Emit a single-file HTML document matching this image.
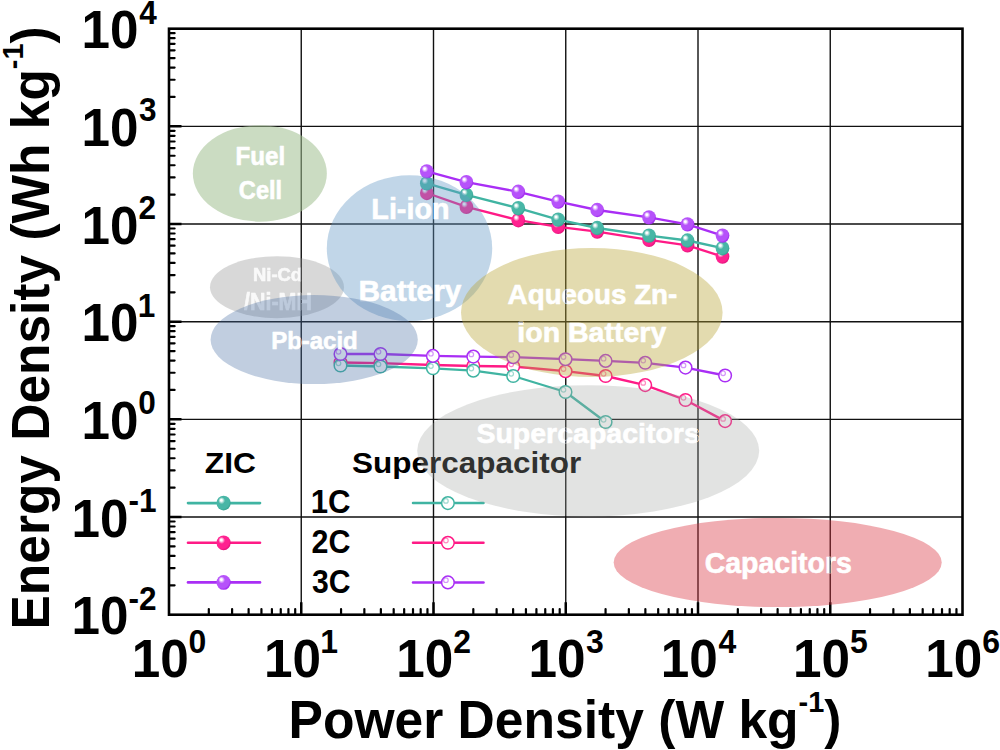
<!DOCTYPE html>
<html><head><meta charset="utf-8"><style>
html,body{margin:0;padding:0;background:#fff;}
svg{display:block;}
text{font-family:"Liberation Sans",sans-serif;font-weight:bold;}
.lab{fill:#fff;}
</style></head><body>
<svg width="1000" height="750" viewBox="0 0 1000 750">
<defs>
<radialGradient id="gT" cx="0.42" cy="0.4" r="0.62" fx="0.33" fy="0.3"><stop offset="0" stop-color="#fff"/><stop offset="0.1" stop-color="#fff" stop-opacity="0.95"/><stop offset="0.38" stop-color="#48b6a6"/><stop offset="0.8" stop-color="#48b6a6"/><stop offset="1" stop-color="#36a090"/></radialGradient>
<radialGradient id="gP" cx="0.42" cy="0.4" r="0.62" fx="0.33" fy="0.3"><stop offset="0" stop-color="#fff"/><stop offset="0.1" stop-color="#fff" stop-opacity="0.95"/><stop offset="0.38" stop-color="#ff2290"/><stop offset="0.8" stop-color="#ff2290"/><stop offset="1" stop-color="#e0107a"/></radialGradient>
<radialGradient id="gV" cx="0.42" cy="0.4" r="0.62" fx="0.33" fy="0.3"><stop offset="0" stop-color="#fff"/><stop offset="0.1" stop-color="#fff" stop-opacity="0.95"/><stop offset="0.38" stop-color="#b652fa"/><stop offset="0.8" stop-color="#b652fa"/><stop offset="1" stop-color="#9c22ec"/></radialGradient>
</defs>
<rect width="1000" height="750" fill="#fff"/>
<path d="M301.25 28.70V614.70 M433.50 28.70V614.70 M565.75 28.70V614.70 M698.00 28.70V614.70 M830.25 28.70V614.70 M169.00 517.03H962.50 M169.00 419.37H962.50 M169.00 321.70H962.50 M169.00 224.03H962.50 M169.00 126.37H962.50" stroke="#111" stroke-width="1.4" fill="none"/>
<path d="M169.00 585.30h5.6 M169.00 568.10h5.6 M169.00 555.90h5.6 M169.00 546.43h5.6 M169.00 538.70h5.6 M169.00 532.16h5.6 M169.00 526.50h5.6 M169.00 521.50h5.6 M169.00 487.63h5.6 M169.00 470.43h5.6 M169.00 458.23h5.6 M169.00 448.77h5.6 M169.00 441.03h5.6 M169.00 434.50h5.6 M169.00 428.83h5.6 M169.00 423.84h5.6 M169.00 389.97h5.6 M169.00 372.77h5.6 M169.00 360.57h5.6 M169.00 351.10h5.6 M169.00 343.37h5.6 M169.00 336.83h5.6 M169.00 331.16h5.6 M169.00 326.17h5.6 M169.00 292.30h5.6 M169.00 275.10h5.6 M169.00 262.90h5.6 M169.00 253.43h5.6 M169.00 245.70h5.6 M169.00 239.16h5.6 M169.00 233.50h5.6 M169.00 228.50h5.6 M169.00 194.63h5.6 M169.00 177.43h5.6 M169.00 165.23h5.6 M169.00 155.77h5.6 M169.00 148.03h5.6 M169.00 141.50h5.6 M169.00 135.83h5.6 M169.00 130.84h5.6 M169.00 96.97h5.6 M169.00 79.77h5.6 M169.00 67.57h5.6 M169.00 58.10h5.6 M169.00 50.37h5.6 M169.00 43.83h5.6 M169.00 38.16h5.6 M169.00 33.17h5.6 M208.81 614.70v-5.6 M232.10 614.70v-5.6 M248.62 614.70v-5.6 M261.44 614.70v-5.6 M271.91 614.70v-5.6 M280.76 614.70v-5.6 M288.43 614.70v-5.6 M295.20 614.70v-5.6 M341.06 614.70v-5.6 M364.35 614.70v-5.6 M380.87 614.70v-5.6 M393.69 614.70v-5.6 M404.16 614.70v-5.6 M413.01 614.70v-5.6 M420.68 614.70v-5.6 M427.45 614.70v-5.6 M473.31 614.70v-5.6 M496.60 614.70v-5.6 M513.12 614.70v-5.6 M525.94 614.70v-5.6 M536.41 614.70v-5.6 M545.26 614.70v-5.6 M552.93 614.70v-5.6 M559.70 614.70v-5.6 M605.56 614.70v-5.6 M628.85 614.70v-5.6 M645.37 614.70v-5.6 M658.19 614.70v-5.6 M668.66 614.70v-5.6 M677.51 614.70v-5.6 M685.18 614.70v-5.6 M691.95 614.70v-5.6 M737.81 614.70v-5.6 M761.10 614.70v-5.6 M777.62 614.70v-5.6 M790.44 614.70v-5.6 M800.91 614.70v-5.6 M809.76 614.70v-5.6 M817.43 614.70v-5.6 M824.20 614.70v-5.6 M870.06 614.70v-5.6 M893.35 614.70v-5.6 M909.87 614.70v-5.6 M922.69 614.70v-5.6 M933.16 614.70v-5.6 M942.01 614.70v-5.6 M949.68 614.70v-5.6 M956.45 614.70v-5.6" stroke="#000" stroke-width="2.2" stroke-linecap="round" fill="none"/>
<path d="M169.00 517.03h12.5 M169.00 419.37h12.5 M169.00 321.70h12.5 M169.00 224.03h12.5 M169.00 126.37h12.5 M301.25 614.70v-12.5 M433.50 614.70v-12.5 M565.75 614.70v-12.5 M698.00 614.70v-12.5 M830.25 614.70v-12.5" stroke="#000" stroke-width="2.5" fill="none"/>
<rect x="169.00" y="28.70" width="793.50" height="586.00" fill="none" stroke="#000" stroke-width="2.6"/>
<polyline points="340.5,362.5 380.5,363.2 432.9,365.0 473.3,366.0 513.2,366.5 565.5,371.2 605.6,376.0 645.2,385.1 685.5,400.0 725.1,421.1" fill="none" stroke="#ff1a86" stroke-width="2.35" stroke-linejoin="round"/>
<circle cx="340.5" cy="362.5" r="6.3" fill="#fff" stroke="#ff1a86" stroke-width="1.5"/>
<circle cx="338.5" cy="360.3" r="2.3" fill="none" stroke="#ff1a86" stroke-opacity="0.5" stroke-width="1.2"/>
<circle cx="380.5" cy="363.2" r="6.3" fill="#fff" stroke="#ff1a86" stroke-width="1.5"/>
<circle cx="378.5" cy="361.0" r="2.3" fill="none" stroke="#ff1a86" stroke-opacity="0.5" stroke-width="1.2"/>
<circle cx="432.9" cy="365.0" r="6.3" fill="#fff" stroke="#ff1a86" stroke-width="1.5"/>
<circle cx="430.9" cy="362.8" r="2.3" fill="none" stroke="#ff1a86" stroke-opacity="0.5" stroke-width="1.2"/>
<circle cx="473.3" cy="366.0" r="6.3" fill="#fff" stroke="#ff1a86" stroke-width="1.5"/>
<circle cx="471.3" cy="363.8" r="2.3" fill="none" stroke="#ff1a86" stroke-opacity="0.5" stroke-width="1.2"/>
<circle cx="513.2" cy="366.5" r="6.3" fill="#fff" stroke="#ff1a86" stroke-width="1.5"/>
<circle cx="511.2" cy="364.3" r="2.3" fill="none" stroke="#ff1a86" stroke-opacity="0.5" stroke-width="1.2"/>
<circle cx="565.5" cy="371.2" r="6.3" fill="#fff" stroke="#ff1a86" stroke-width="1.5"/>
<circle cx="563.5" cy="369.0" r="2.3" fill="none" stroke="#ff1a86" stroke-opacity="0.5" stroke-width="1.2"/>
<circle cx="605.6" cy="376.0" r="6.3" fill="#fff" stroke="#ff1a86" stroke-width="1.5"/>
<circle cx="603.6" cy="373.8" r="2.3" fill="none" stroke="#ff1a86" stroke-opacity="0.5" stroke-width="1.2"/>
<circle cx="645.2" cy="385.1" r="6.3" fill="#fff" stroke="#ff1a86" stroke-width="1.5"/>
<circle cx="643.2" cy="382.9" r="2.3" fill="none" stroke="#ff1a86" stroke-opacity="0.5" stroke-width="1.2"/>
<circle cx="685.5" cy="400.0" r="6.3" fill="#fff" stroke="#ff1a86" stroke-width="1.5"/>
<circle cx="683.5" cy="397.8" r="2.3" fill="none" stroke="#ff1a86" stroke-opacity="0.5" stroke-width="1.2"/>
<circle cx="725.1" cy="421.1" r="6.3" fill="#fff" stroke="#ff1a86" stroke-width="1.5"/>
<circle cx="723.1" cy="418.9" r="2.3" fill="none" stroke="#ff1a86" stroke-opacity="0.5" stroke-width="1.2"/>
<polyline points="340.5,365.5 380.5,366.5 432.9,368.3 473.3,370.7 513.2,376.0 565.5,392.0 605.6,422.0" fill="none" stroke="#40b4a2" stroke-width="2.35" stroke-linejoin="round"/>
<circle cx="340.5" cy="365.5" r="6.3" fill="#fff" stroke="#40b4a2" stroke-width="1.5"/>
<circle cx="338.5" cy="363.3" r="2.3" fill="none" stroke="#40b4a2" stroke-opacity="0.5" stroke-width="1.2"/>
<circle cx="380.5" cy="366.5" r="6.3" fill="#fff" stroke="#40b4a2" stroke-width="1.5"/>
<circle cx="378.5" cy="364.3" r="2.3" fill="none" stroke="#40b4a2" stroke-opacity="0.5" stroke-width="1.2"/>
<circle cx="432.9" cy="368.3" r="6.3" fill="#fff" stroke="#40b4a2" stroke-width="1.5"/>
<circle cx="430.9" cy="366.1" r="2.3" fill="none" stroke="#40b4a2" stroke-opacity="0.5" stroke-width="1.2"/>
<circle cx="473.3" cy="370.7" r="6.3" fill="#fff" stroke="#40b4a2" stroke-width="1.5"/>
<circle cx="471.3" cy="368.5" r="2.3" fill="none" stroke="#40b4a2" stroke-opacity="0.5" stroke-width="1.2"/>
<circle cx="513.2" cy="376.0" r="6.3" fill="#fff" stroke="#40b4a2" stroke-width="1.5"/>
<circle cx="511.2" cy="373.8" r="2.3" fill="none" stroke="#40b4a2" stroke-opacity="0.5" stroke-width="1.2"/>
<circle cx="565.5" cy="392.0" r="6.3" fill="#fff" stroke="#40b4a2" stroke-width="1.5"/>
<circle cx="563.5" cy="389.8" r="2.3" fill="none" stroke="#40b4a2" stroke-opacity="0.5" stroke-width="1.2"/>
<circle cx="605.6" cy="422.0" r="6.3" fill="#fff" stroke="#40b4a2" stroke-width="1.5"/>
<circle cx="603.6" cy="419.8" r="2.3" fill="none" stroke="#40b4a2" stroke-opacity="0.5" stroke-width="1.2"/>
<polyline points="340.5,354.0 380.5,354.0 432.9,355.9 473.3,356.6 513.2,357.2 565.5,359.2 605.6,360.9 645.2,362.8 685.5,367.6 725.1,375.5" fill="none" stroke="#a92ef5" stroke-width="2.35" stroke-linejoin="round"/>
<circle cx="340.5" cy="354.0" r="6.3" fill="#fff" stroke="#a92ef5" stroke-width="1.5"/>
<circle cx="338.5" cy="351.8" r="2.3" fill="none" stroke="#a92ef5" stroke-opacity="0.5" stroke-width="1.2"/>
<circle cx="380.5" cy="354.0" r="6.3" fill="#fff" stroke="#a92ef5" stroke-width="1.5"/>
<circle cx="378.5" cy="351.8" r="2.3" fill="none" stroke="#a92ef5" stroke-opacity="0.5" stroke-width="1.2"/>
<circle cx="432.9" cy="355.9" r="6.3" fill="#fff" stroke="#a92ef5" stroke-width="1.5"/>
<circle cx="430.9" cy="353.7" r="2.3" fill="none" stroke="#a92ef5" stroke-opacity="0.5" stroke-width="1.2"/>
<circle cx="473.3" cy="356.6" r="6.3" fill="#fff" stroke="#a92ef5" stroke-width="1.5"/>
<circle cx="471.3" cy="354.4" r="2.3" fill="none" stroke="#a92ef5" stroke-opacity="0.5" stroke-width="1.2"/>
<circle cx="513.2" cy="357.2" r="6.3" fill="#fff" stroke="#a92ef5" stroke-width="1.5"/>
<circle cx="511.2" cy="355.0" r="2.3" fill="none" stroke="#a92ef5" stroke-opacity="0.5" stroke-width="1.2"/>
<circle cx="565.5" cy="359.2" r="6.3" fill="#fff" stroke="#a92ef5" stroke-width="1.5"/>
<circle cx="563.5" cy="357.0" r="2.3" fill="none" stroke="#a92ef5" stroke-opacity="0.5" stroke-width="1.2"/>
<circle cx="605.6" cy="360.9" r="6.3" fill="#fff" stroke="#a92ef5" stroke-width="1.5"/>
<circle cx="603.6" cy="358.7" r="2.3" fill="none" stroke="#a92ef5" stroke-opacity="0.5" stroke-width="1.2"/>
<circle cx="645.2" cy="362.8" r="6.3" fill="#fff" stroke="#a92ef5" stroke-width="1.5"/>
<circle cx="643.2" cy="360.6" r="2.3" fill="none" stroke="#a92ef5" stroke-opacity="0.5" stroke-width="1.2"/>
<circle cx="685.5" cy="367.6" r="6.3" fill="#fff" stroke="#a92ef5" stroke-width="1.5"/>
<circle cx="683.5" cy="365.4" r="2.3" fill="none" stroke="#a92ef5" stroke-opacity="0.5" stroke-width="1.2"/>
<circle cx="725.1" cy="375.5" r="6.3" fill="#fff" stroke="#a92ef5" stroke-width="1.5"/>
<circle cx="723.1" cy="373.3" r="2.3" fill="none" stroke="#a92ef5" stroke-opacity="0.5" stroke-width="1.2"/>
<polyline points="426.8,193.0 466.4,206.8 518.3,220.2 558.2,226.8 597.2,231.6 649.0,239.8 687.5,245.4 722.5,256.6" fill="none" stroke="#ff1a86" stroke-width="2.35" stroke-linejoin="round"/>
<ellipse cx="426.8" cy="193.0" rx="6.85" ry="7.19" fill="url(#gP)"/>
<ellipse cx="466.4" cy="206.8" rx="6.85" ry="7.19" fill="url(#gP)"/>
<ellipse cx="518.3" cy="220.2" rx="6.85" ry="7.19" fill="url(#gP)"/>
<ellipse cx="558.2" cy="226.8" rx="6.85" ry="7.19" fill="url(#gP)"/>
<ellipse cx="597.2" cy="231.6" rx="6.85" ry="7.19" fill="url(#gP)"/>
<ellipse cx="649.0" cy="239.8" rx="6.85" ry="7.19" fill="url(#gP)"/>
<ellipse cx="687.5" cy="245.4" rx="6.85" ry="7.19" fill="url(#gP)"/>
<ellipse cx="722.5" cy="256.6" rx="6.85" ry="7.19" fill="url(#gP)"/>
<polyline points="426.8,183.4 466.4,194.8 518.3,208.2 558.2,219.6 597.2,228.0 649.0,235.6 687.5,240.5 722.5,248.2" fill="none" stroke="#40b4a2" stroke-width="2.35" stroke-linejoin="round"/>
<ellipse cx="426.8" cy="183.4" rx="6.85" ry="7.19" fill="url(#gT)"/>
<ellipse cx="466.4" cy="194.8" rx="6.85" ry="7.19" fill="url(#gT)"/>
<ellipse cx="518.3" cy="208.2" rx="6.85" ry="7.19" fill="url(#gT)"/>
<ellipse cx="558.2" cy="219.6" rx="6.85" ry="7.19" fill="url(#gT)"/>
<ellipse cx="597.2" cy="228.0" rx="6.85" ry="7.19" fill="url(#gT)"/>
<ellipse cx="649.0" cy="235.6" rx="6.85" ry="7.19" fill="url(#gT)"/>
<ellipse cx="687.5" cy="240.5" rx="6.85" ry="7.19" fill="url(#gT)"/>
<ellipse cx="722.5" cy="248.2" rx="6.85" ry="7.19" fill="url(#gT)"/>
<polyline points="426.8,171.4 466.4,182.2 518.3,191.8 558.2,201.6 597.2,210.0 649.0,217.4 687.5,224.4 722.5,235.6" fill="none" stroke="#a92ef5" stroke-width="2.35" stroke-linejoin="round"/>
<ellipse cx="426.8" cy="171.4" rx="6.85" ry="7.19" fill="url(#gV)"/>
<ellipse cx="466.4" cy="182.2" rx="6.85" ry="7.19" fill="url(#gV)"/>
<ellipse cx="518.3" cy="191.8" rx="6.85" ry="7.19" fill="url(#gV)"/>
<ellipse cx="558.2" cy="201.6" rx="6.85" ry="7.19" fill="url(#gV)"/>
<ellipse cx="597.2" cy="210.0" rx="6.85" ry="7.19" fill="url(#gV)"/>
<ellipse cx="649.0" cy="217.4" rx="6.85" ry="7.19" fill="url(#gV)"/>
<ellipse cx="687.5" cy="224.4" rx="6.85" ry="7.19" fill="url(#gV)"/>
<ellipse cx="722.5" cy="235.6" rx="6.85" ry="7.19" fill="url(#gV)"/>
<text  transform="translate(204.85,473.30) scale(0.3176,0.2968)" font-size="100" >ZIC</text>
<text  transform="translate(352.06,473.27) scale(0.3149,0.3003)" font-size="100" >Supercapacitor</text>
<text  transform="translate(310.65,513.27) scale(0.3116,0.3279)" font-size="100" >1C</text>
<path d="M188 503.1H260" stroke="#40b4a2" stroke-width="2.6" stroke-linecap="round"/>
<ellipse cx="223.6" cy="503.1" rx="7.1" ry="7.4" fill="url(#gT)"/>
<path d="M413 503.1H483.5" stroke="#40b4a2" stroke-width="2.5" stroke-linecap="round"/>
<circle cx="447.9" cy="503.1" r="6.3" fill="#fff" stroke="#40b4a2" stroke-width="1.5"/>
<circle cx="445.9" cy="500.9" r="2.3" fill="none" stroke="#40b4a2" stroke-opacity="0.5" stroke-width="1.2"/>
<text  transform="translate(311.53,553.27) scale(0.3045,0.3279)" font-size="100" >2C</text>
<path d="M188 542.8H260" stroke="#ff1a86" stroke-width="2.6" stroke-linecap="round"/>
<ellipse cx="223.6" cy="542.8" rx="7.1" ry="7.4" fill="url(#gP)"/>
<path d="M413 542.8H483.5" stroke="#ff1a86" stroke-width="2.5" stroke-linecap="round"/>
<circle cx="447.9" cy="542.8" r="6.3" fill="#fff" stroke="#ff1a86" stroke-width="1.5"/>
<circle cx="445.9" cy="540.5" r="2.3" fill="none" stroke="#ff1a86" stroke-opacity="0.5" stroke-width="1.2"/>
<text  transform="translate(311.92,593.19) scale(0.3014,0.3268)" font-size="100" >3C</text>
<path d="M188 582.4H260" stroke="#a92ef5" stroke-width="2.6" stroke-linecap="round"/>
<ellipse cx="223.6" cy="582.4" rx="7.1" ry="7.4" fill="url(#gV)"/>
<path d="M413 582.4H483.5" stroke="#a92ef5" stroke-width="2.5" stroke-linecap="round"/>
<circle cx="447.9" cy="582.4" r="6.3" fill="#fff" stroke="#a92ef5" stroke-width="1.5"/>
<circle cx="445.9" cy="580.2" r="2.3" fill="none" stroke="#a92ef5" stroke-opacity="0.5" stroke-width="1.2"/>
<ellipse cx="259.85" cy="173.45" rx="67" ry="48.25" fill="rgb(160,191,144)" fill-opacity="0.55"/>
<text class="lab" transform="translate(235.57,165.44) scale(0.2415,0.2626)" font-size="100" stroke="#fff" stroke-width="2.38" stroke-linejoin="round" >Fuel</text>
<text class="lab" transform="translate(238.86,199.24) scale(0.2357,0.2571)" font-size="100" stroke="#fff" stroke-width="2.43" stroke-linejoin="round" >Cell</text>
<ellipse cx="277" cy="287.2" rx="67" ry="31" fill="rgb(144,144,144)" fill-opacity="0.35"/>
<text class="lab" transform="translate(253.06,281.12) scale(0.1840,0.1823)" font-size="100" stroke="#fff" stroke-width="3.28" stroke-linejoin="round" opacity="0.85">Ni-Cd</text>
<text class="lab" transform="translate(244.09,310.01) scale(0.2144,0.2443)" font-size="100" stroke="#fff" stroke-width="2.62" stroke-linejoin="round" opacity="0.85">/Ni-MH</text>
<ellipse cx="409.5" cy="248.2" rx="82.7" ry="72.9" fill="rgb(100,152,198)" fill-opacity="0.4"/>
<text class="lab" transform="translate(371.36,218.90) scale(0.2870,0.2980)" font-size="100" stroke="#fff" stroke-width="2.05" stroke-linejoin="round" >Li-ion</text>
<text class="lab" transform="translate(358.48,300.78) scale(0.2989,0.2950)" font-size="100" stroke="#fff" stroke-width="2.02" stroke-linejoin="round" >Battery</text>
<ellipse cx="314.2" cy="339.6" rx="103.6" ry="44.5" fill="rgb(78,115,166)" fill-opacity="0.35"/>
<text class="lab" transform="translate(271.18,348.96) scale(0.2398,0.2435)" font-size="100" stroke="#fff" stroke-width="2.48" stroke-linejoin="round" >Pb-acid</text>
<ellipse cx="591.8" cy="312.5" rx="130.8" ry="64.5" fill="rgb(185,165,55)" fill-opacity="0.4"/>
<text class="lab" transform="translate(507.61,303.93) scale(0.2778,0.2782)" font-size="100" stroke="#fff" stroke-width="2.16" stroke-linejoin="round" >Aqueous Zn-</text>
<text class="lab" transform="translate(517.30,342.05) scale(0.2854,0.2724)" font-size="100" stroke="#fff" stroke-width="2.15" stroke-linejoin="round" >ion Battery</text>
<ellipse cx="588.2" cy="450.8" rx="171" ry="65.6" fill="rgb(158,162,158)" fill-opacity="0.3"/>
<text class="lab" transform="translate(476.44,442.56) scale(0.2851,0.2767)" font-size="100" stroke="#fff" stroke-width="2.14" stroke-linejoin="round" >Supercapacitors</text>
<ellipse cx="777.7" cy="562.5" rx="164" ry="44.6" fill="rgb(218,50,62)" fill-opacity="0.4"/>
<text class="lab" transform="translate(704.66,572.68) scale(0.2850,0.2949)" font-size="100" stroke="#fff" stroke-width="2.07" stroke-linejoin="round" >Capacitors</text>
<clipPath id="lc"><text class="lab" transform="translate(235.57,165.44) scale(0.2415,0.2626)" font-size="100" stroke="#fff" stroke-width="2.38" stroke-linejoin="round" >Fuel</text><text class="lab" transform="translate(238.86,199.24) scale(0.2357,0.2571)" font-size="100" stroke="#fff" stroke-width="2.43" stroke-linejoin="round" >Cell</text><text class="lab" transform="translate(253.06,281.12) scale(0.1840,0.1823)" font-size="100" stroke="#fff" stroke-width="3.28" stroke-linejoin="round" opacity="0.85">Ni-Cd</text><text class="lab" transform="translate(244.09,310.01) scale(0.2144,0.2443)" font-size="100" stroke="#fff" stroke-width="2.62" stroke-linejoin="round" opacity="0.85">/Ni-MH</text><text class="lab" transform="translate(358.48,300.78) scale(0.2989,0.2950)" font-size="100" stroke="#fff" stroke-width="2.02" stroke-linejoin="round" >Battery</text><text class="lab" transform="translate(271.18,348.96) scale(0.2398,0.2435)" font-size="100" stroke="#fff" stroke-width="2.48" stroke-linejoin="round" >Pb-acid</text><text class="lab" transform="translate(507.61,303.93) scale(0.2778,0.2782)" font-size="100" stroke="#fff" stroke-width="2.16" stroke-linejoin="round" >Aqueous Zn-</text><text class="lab" transform="translate(517.30,342.05) scale(0.2854,0.2724)" font-size="100" stroke="#fff" stroke-width="2.15" stroke-linejoin="round" >ion Battery</text><text class="lab" transform="translate(476.44,442.56) scale(0.2851,0.2767)" font-size="100" stroke="#fff" stroke-width="2.14" stroke-linejoin="round" >Supercapacitors</text><text class="lab" transform="translate(704.66,572.68) scale(0.2850,0.2949)" font-size="100" stroke="#fff" stroke-width="2.07" stroke-linejoin="round" >Capacitors</text></clipPath>
<path d="M301.25 28.70V614.70 M433.50 28.70V614.70 M565.75 28.70V614.70 M698.00 28.70V614.70 M830.25 28.70V614.70 M169.00 517.03H962.50 M169.00 419.37H962.50 M169.00 321.70H962.50 M169.00 224.03H962.50 M169.00 126.37H962.50" stroke="#2c3440" stroke-opacity="0.9" stroke-width="1.4" fill="none" clip-path="url(#lc)"/>
<text  transform="translate(71.60,634.37) scale(0.5119,0.5343)" font-size="100" >10</text>
<text transform="translate(128.44,609.80) scale(0.3156,0.3287)" font-size="100">-2</text>
<text  transform="translate(71.60,536.70) scale(0.5119,0.5343)" font-size="100" >10</text>
<text transform="translate(128.44,512.13) scale(0.3156,0.3287)" font-size="100">-1</text>
<text  transform="translate(81.50,439.03) scale(0.5119,0.5343)" font-size="100" >10</text>
<text transform="translate(138.34,414.47) scale(0.3156,0.3287)" font-size="100">0</text>
<text  transform="translate(81.50,341.37) scale(0.5119,0.5343)" font-size="100" >10</text>
<text transform="translate(137.63,316.80) scale(0.3156,0.3287)" font-size="100">1</text>
<text  transform="translate(81.50,243.70) scale(0.5119,0.5343)" font-size="100" >10</text>
<text transform="translate(138.50,219.13) scale(0.3156,0.3287)" font-size="100">2</text>
<text  transform="translate(81.50,146.03) scale(0.5119,0.5343)" font-size="100" >10</text>
<text transform="translate(138.89,121.47) scale(0.3156,0.3287)" font-size="100">3</text>
<text  transform="translate(81.50,48.37) scale(0.5119,0.5343)" font-size="100" >10</text>
<text transform="translate(139.13,23.80) scale(0.3156,0.3287)" font-size="100">4</text>
<text  transform="translate(131.79,676.67) scale(0.5129,0.5314)" font-size="100" >10</text>
<text transform="translate(188.62,652.50) scale(0.3198,0.3331)" font-size="100">0</text>
<text  transform="translate(264.04,676.67) scale(0.5129,0.5314)" font-size="100" >10</text>
<text transform="translate(320.15,652.50) scale(0.3198,0.3331)" font-size="100">1</text>
<text  transform="translate(396.29,676.67) scale(0.5129,0.5314)" font-size="100" >10</text>
<text transform="translate(453.28,652.50) scale(0.3198,0.3331)" font-size="100">2</text>
<text  transform="translate(528.54,676.67) scale(0.5129,0.5314)" font-size="100" >10</text>
<text transform="translate(585.93,652.50) scale(0.3198,0.3331)" font-size="100">3</text>
<text  transform="translate(660.79,676.67) scale(0.5129,0.5314)" font-size="100" >10</text>
<text transform="translate(718.42,652.50) scale(0.3198,0.3331)" font-size="100">4</text>
<text  transform="translate(793.04,676.67) scale(0.5129,0.5314)" font-size="100" >10</text>
<text transform="translate(850.11,652.50) scale(0.3198,0.3331)" font-size="100">5</text>
<text  transform="translate(925.29,676.67) scale(0.5129,0.5314)" font-size="100" >10</text>
<text transform="translate(982.20,652.50) scale(0.3198,0.3331)" font-size="100">6</text>
<text transform="translate(288.52,738.00) scale(0.5158,0.5425)" font-size="100" >Power Density (W kg<tspan dy="-48" font-size="56">-1</tspan><tspan dy="48">)</tspan></text>
<text transform="translate(49.00,626.00) rotate(-90) translate(-3.47,0) scale(0.5146,0.5382)" font-size="100" >Energy Density (Wh kg<tspan dy="-48" font-size="56">-1</tspan><tspan dy="48">)</tspan></text>
</svg></body></html>
